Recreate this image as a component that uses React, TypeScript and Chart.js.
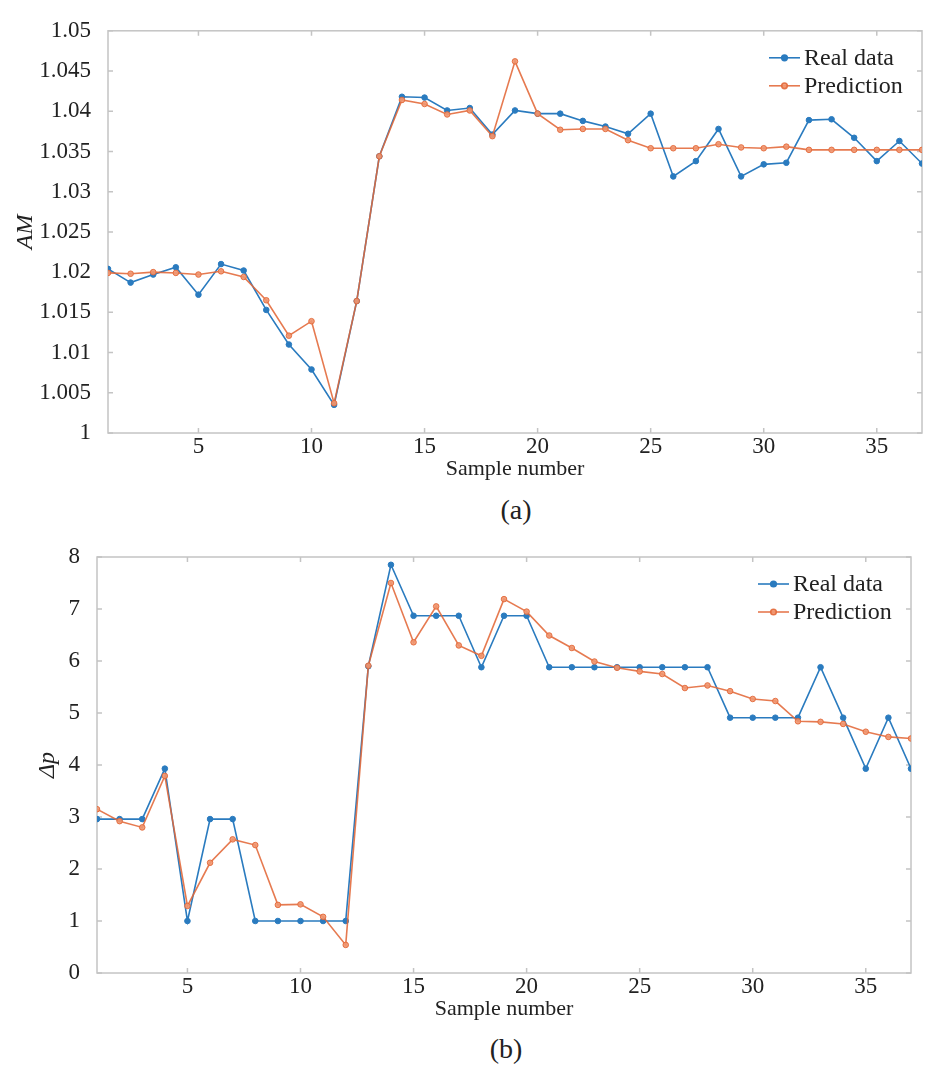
import { useEffect, useRef } from "react"
import { Chart, registerables, type ChartConfiguration, type Plugin } from "chart.js"

Chart.register(...registerables)

// Sample numbers on the x axis
const samples = [
  1, 2, 3, 4, 5, 6, 7, 8, 9, 10, 11, 12, 13, 14, 15, 16, 17, 18, 19, 20, 21, 22, 23, 24, 25, 26, 27,
  28, 29, 30, 31, 32, 33, 34, 35, 36, 37,
]
const xTicks = [5, 10, 15, 20, 25, 30, 35]

// (a) AM
const amReal = [
  1.0204, 1.0187, 1.0197, 1.0206, 1.0172, 1.021, 1.0202, 1.0153, 1.011, 1.0079, 1.0035, 1.0164, 1.0344,
  1.0418, 1.0417, 1.0401, 1.0404, 1.0371, 1.0401, 1.0397, 1.0397, 1.0388, 1.0381, 1.0372, 1.0397,
  1.0319, 1.0338, 1.0378, 1.0319, 1.0334, 1.0336, 1.0389, 1.039, 1.0367, 1.0338, 1.0363, 1.0335,
]
const amPred = [
  1.0199, 1.0198, 1.02, 1.0199, 1.0197, 1.0201, 1.0194, 1.0165, 1.0121, 1.0139, 1.0037, 1.0164, 1.0344,
  1.0414, 1.0409, 1.0396, 1.0401, 1.0369, 1.0462, 1.0397, 1.0377, 1.0378, 1.0378, 1.0364, 1.0354,
  1.0354, 1.0354, 1.0359, 1.0355, 1.0354, 1.0356, 1.0352, 1.0352, 1.0352, 1.0352, 1.0352, 1.0352,
]
const amTicks = [1, 1.005, 1.01, 1.015, 1.02, 1.025, 1.03, 1.035, 1.04, 1.045, 1.05]

// (b) Δp
const dpReal = [
  2.96, 2.96, 2.96, 3.93, 1.0, 2.96, 2.96, 1.0, 1.0, 1.0, 1.0, 1.0, 5.9, 7.85, 6.87, 6.87, 6.87, 5.88,
  6.87, 6.87, 5.88, 5.88, 5.88, 5.88, 5.88, 5.88, 5.88, 5.88, 4.91, 4.91, 4.91, 4.91, 5.88, 4.91, 3.93,
  4.91, 3.93,
]
const dpPred = [
  3.15, 2.92, 2.8, 3.79, 1.29, 2.12, 2.57, 2.46, 1.31, 1.32, 1.08, 0.54, 5.91, 7.5, 6.36, 7.05, 6.3,
  6.1, 7.19, 6.95, 6.49, 6.25, 5.99, 5.87, 5.8, 5.75, 5.48, 5.53, 5.42, 5.27, 5.23, 4.84, 4.83, 4.79,
  4.64, 4.54, 4.51,
]
const dpTicks = [0, 1, 2, 3, 4, 5, 6, 7, 8]

const seriesLabels = ["Real data", "Prediction"]

const BLUE = "#2a7bbf"
const ORANGE = "rgba(226, 104, 56, 0.88)"
const GRAY = "#c4c4c4"
const TEXT = "#222"
const FONT = "'Liberation Serif', 'Times New Roman', serif"

// matlab-ish box with inward ticks on all four sides
const frame: Plugin = {
  id: "frame",
  beforeDatasetsDraw(chart) {
    const { ctx, chartArea: a, scales } = chart
    const tl = 5
    ctx.save()
    ctx.strokeStyle = GRAY
    ctx.lineWidth = 1.5
    ctx.strokeRect(a.left, a.top, a.width, a.height)
    ctx.beginPath()
    scales.x.ticks.forEach((t) => {
      const px = scales.x.getPixelForValue(t.value)
      ctx.moveTo(px, a.bottom)
      ctx.lineTo(px, a.bottom - tl)
      ctx.moveTo(px, a.top)
      ctx.lineTo(px, a.top + tl)
    })
    scales.y.ticks.forEach((t) => {
      const py = scales.y.getPixelForValue(t.value)
      ctx.moveTo(a.left, py)
      ctx.lineTo(a.left + tl, py)
      ctx.moveTo(a.right, py)
      ctx.lineTo(a.right - tl, py)
    })
    ctx.stroke()
    ctx.restore()
  },
}

// legend drawn inside the plot, top right
const insetLegend: Plugin = {
  id: "insetLegend",
  afterDraw(chart) {
    const { ctx, chartArea: a } = chart
    ctx.save()
    ctx.font = `24px ${FONT}`
    ctx.textBaseline = "middle"
    chart.data.datasets.forEach((ds: any, i) => {
      const y = a.top + 27 + i * 28
      const x0 = a.right - 153
      const x1 = a.right - 122
      ctx.strokeStyle = ds.borderColor
      ctx.lineWidth = 1.6
      ctx.beginPath()
      ctx.moveTo(x0, y)
      ctx.lineTo(x1, y)
      ctx.stroke()
      ctx.beginPath()
      ctx.arc((x0 + x1) / 2, y, 2.8, 0, Math.PI * 2)
      ctx.fillStyle = ds.pointBackgroundColor
      ctx.fill()
      ctx.stroke()
      ctx.fillStyle = TEXT
      ctx.fillText(ds.label, a.right - 118, y + 1)
    })
    ctx.restore()
  },
}

type PanelProps = {
  top: number
  height: number
  padTop: number
  padRight: number
  yWidth: number
  real: number[]
  pred: number[]
  yMin: number
  yMax: number
  yTicks: number[]
  yTitle: string
  yTitlePad: number
}

function Panel(p: PanelProps) {
  const canvasRef = useRef<HTMLCanvasElement>(null)
  const chartInstance = useRef<Chart | null>(null)

  useEffect(() => {
    if (!canvasRef.current) return
    const ctx = canvasRef.current.getContext("2d")
    if (!ctx) return

    const tickFont = { family: FONT, size: 23 }

    const config: ChartConfiguration = {
      type: "line",
      data: {
        datasets: [
          {
            label: seriesLabels[0],
            data: samples.map((s, i) => ({ x: s, y: p.real[i] })),
            borderColor: BLUE,
            backgroundColor: BLUE,
            pointBackgroundColor: BLUE,
            pointBorderColor: BLUE,
            borderWidth: 1.6,
            pointRadius: 2.8,
            pointBorderWidth: 1,
            tension: 0,
            order: 1,
          },
          {
            label: seriesLabels[1],
            data: samples.map((s, i) => ({ x: s, y: p.pred[i] })),
            borderColor: ORANGE,
            backgroundColor: ORANGE,
            pointBackgroundColor: "rgba(240, 150, 112, 0.9)",
            pointBorderColor: ORANGE,
            borderWidth: 1.6,
            pointRadius: 2.8,
            pointBorderWidth: 1,
            tension: 0,
            order: 0,
          },
        ],
      },
      options: {
        animation: false,
        responsive: true,
        maintainAspectRatio: false,
        layout: { padding: { top: p.padTop, right: p.padRight, bottom: 8, left: 0 } },
        plugins: {
          legend: { display: false },
          tooltip: { enabled: false },
        },
        scales: {
          x: {
            type: "linear",
            min: 1,
            max: 37,
            grid: { display: false, drawTicks: false },
            border: { display: false },
            afterBuildTicks: (scale) => {
              scale.ticks = xTicks.map((value) => ({ value }))
            },
            afterFit: (scale) => {
              scale.height = 49
            },
            ticks: {
              padding: 0,
              color: TEXT,
              font: tickFont,
              maxRotation: 0,
              callback: (v) => String(v),
            },
            title: {
              display: true,
              text: "Sample number",
              color: TEXT,
              font: { family: FONT, size: 22 },
              padding: { top: 0, bottom: 0 },
            },
          },
          y: {
            type: "linear",
            min: p.yMin,
            max: p.yMax,
            grid: { display: false, drawTicks: false },
            border: { display: false },
            afterBuildTicks: (scale) => {
              scale.ticks = p.yTicks.map((value) => ({ value }))
            },
            afterFit: (scale) => {
              scale.width = p.yWidth
            },
            ticks: {
              padding: 17,
              color: TEXT,
              font: tickFont,
              callback: (v) => String(Number(Number(v).toFixed(3))),
            },
            title: {
              display: true,
              text: p.yTitle,
              color: TEXT,
              font: { family: FONT, size: 24, style: "italic" },
              padding: { top: p.yTitlePad, bottom: 0 },
            },
          },
        },
      },
      plugins: [frame, insetLegend],
    }

    chartInstance.current = new Chart(ctx, config)

    return () => {
      if (chartInstance.current) {
        chartInstance.current.destroy()
        chartInstance.current = null
      }
    }
  }, [])

  return (
    <div style={{ position: "absolute", left: 0, top: p.top, width: 937, height: p.height }}>
      <canvas ref={canvasRef}></canvas>
    </div>
  )
}

const captionStyle = {
  position: "absolute" as const,
  width: 100,
  textAlign: "center" as const,
  fontFamily: FONT,
  fontSize: 28,
  lineHeight: "32px",
  color: TEXT,
}

export default function App() {
  return (
    <div style={{ position: "absolute", left: 0, top: 0, width: 937, height: 1074, background: "#fff" }}>
      <Panel
        top={0}
        height={490}
        padTop={16}
        padRight={15}
        yWidth={108}
        real={amReal}
        pred={amPred}
        yMin={1}
        yMax={1.05}
        yTicks={amTicks}
        yTitle="AM"
        yTitlePad={11}
      />
      <div style={{ ...captionStyle, left: 466, top: 494 }}>(a)</div>
      <Panel
        top={520}
        height={510}
        padTop={37}
        padRight={26}
        yWidth={97}
        real={dpReal}
        pred={dpPred}
        yMin={0}
        yMax={8}
        yTicks={dpTicks}
        yTitle="Δp"
        yTitlePad={33}
      />
      <div style={{ ...captionStyle, left: 456, top: 1033 }}>(b)</div>
    </div>
  )
}
